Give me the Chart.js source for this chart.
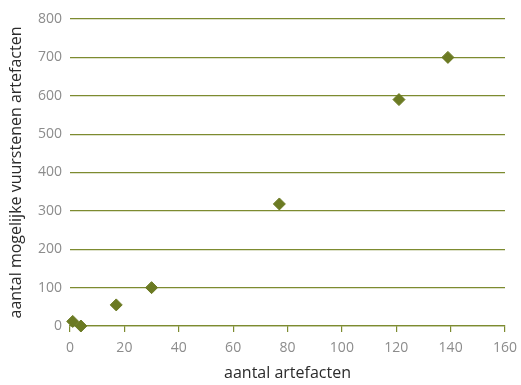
<!DOCTYPE html>
<html>
<head>
<meta charset="utf-8">
<script src="https://cdn.jsdelivr.net/npm/chart.js@4/dist/chart.umd.min.js"></script>
<style>
  html, body { margin: 0; padding: 0; background: #fff; }
  #wrap { width: 521px; height: 385px; position: relative; }
</style>
</head>
<body>
<div id="wrap"><canvas id="c" width="521" height="385"></canvas></div>
<script>
// number of artefacts per find spot (x) vs. possible burnt-flint artefacts (y)
const artefacten = [1, 4, 17, 30, 77, 121, 139];
const vuurstenen = [12, 0, 55, 100, 318, 590, 700];
const xTicks = [0, 20, 40, 60, 80, 100, 120, 140, 160];
const yTicks = [0, 100, 200, 300, 400, 500, 600, 700, 800];

const olive = '#6b7a23';
const gridOlive = '#7d8b30';
const tickGrey = '#8c8c8c';
const titleDark = '#2b2b2b';
const fontFam = '"Open Sans", "Noto Sans", sans-serif';

const points = artefacten.map((x, i) => ({ x: x, y: vuurstenen[i] }));

new Chart(document.getElementById('c'), {
  type: 'scatter',
  data: {
    datasets: [{
      data: points,
      clip: false,
      pointStyle: 'rectRot',
      pointRadius: 6,
      pointHoverRadius: 6,
      backgroundColor: olive,
      borderColor: olive,
      borderWidth: 1
    }]
  },
  options: {
    responsive: false,
    animation: false,
    layout: { padding: { top: 19, right: 16, left: 0, bottom: 0 } },
    plugins: { legend: { display: false }, tooltip: { enabled: false } },
    scales: {
      x: {
        type: 'linear',
        min: 0, max: 160,
        afterBuildTicks: (s) => { s.ticks = xTicks.map(v => ({ value: v })); },
        afterFit: (s) => { s.height = 59; s.paddingLeft = 0; s.paddingRight = 0; },
        grid: { drawOnChartArea: false, drawTicks: true, tickLength: 6, color: gridOlive, lineWidth: 1.2 },
        border: { display: true, color: gridOlive, width: 1.2 },
        ticks: { color: tickGrey, padding: 8, font: { family: fontFam, size: 14 }, maxRotation: 0 },
        title: { display: true, text: 'aantal artefacten', color: titleDark,
                 font: { family: fontFam, size: 16 }, padding: { top: 0, bottom: 2 } }
      },
      y: {
        type: 'linear',
        min: 0, max: 800,
        afterBuildTicks: (s) => { s.ticks = yTicks.map(v => ({ value: v })); },
        afterFit: (s) => { s.width = 70; s.paddingTop = 0; s.paddingBottom = 0; },
        grid: { drawTicks: false, color: gridOlive, lineWidth: 1.2 },
        border: { display: false },
        ticks: { color: tickGrey, padding: 8, font: { family: fontFam, size: 14 } },
        title: { display: true, text: 'aantal mogelijke vuurstenen artefacten', color: titleDark,
                 font: { family: fontFam, size: 16 }, padding: { top: 7, bottom: 0 } }
      }
    }
  }
});
</script>
</body>
</html>
